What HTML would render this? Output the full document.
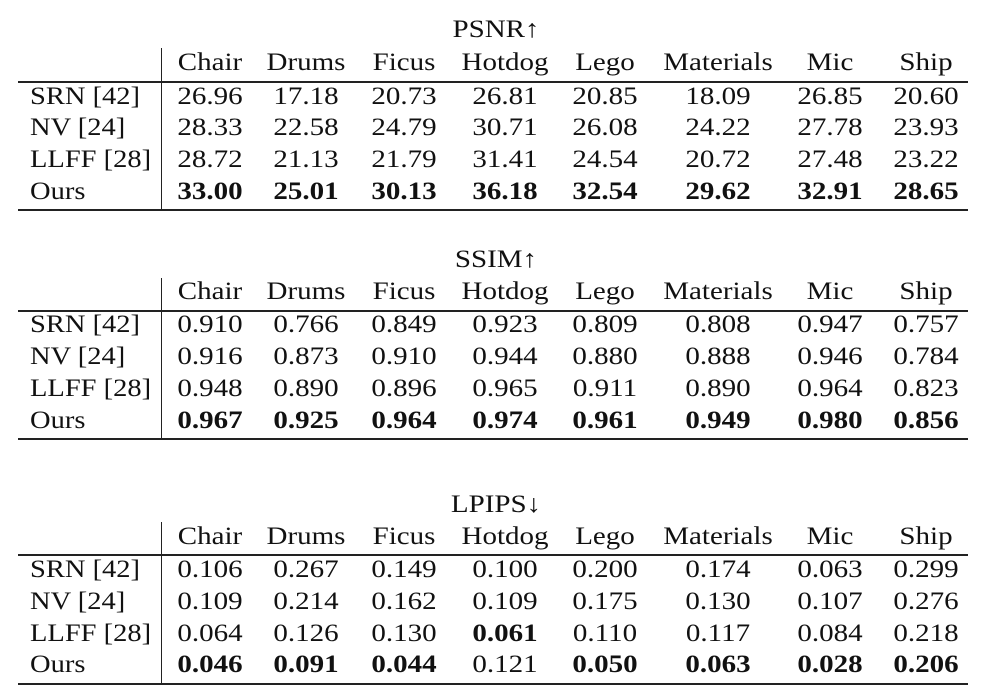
<!DOCTYPE html>
<html><head><meta charset="utf-8"><style>
body{margin:0;width:986px;height:698px;background:#fff;position:relative;overflow:hidden;font-family:"Liberation Serif",serif;color:#111;}
.t{position:absolute;font-size:25px;line-height:28px;white-space:nowrap;transform:translate(-50%,-50%) scaleX(1.16);}
.l{position:absolute;font-size:25px;line-height:28px;white-space:nowrap;transform:translateY(-50%) scaleX(1.14);transform-origin:0 50%;left:30px;}
.b{font-weight:bold;}
.h{position:absolute;left:18px;width:950px;height:1.5px;background:#222;}
.v{position:absolute;left:161px;width:1.3px;background:#222;}
</style></head><body>
<div id="root"></div>
<script>
var cols=[210,306,404,505,605,718,830,926];
var heads=["Chair","Drums","Ficus","Hotdog","Lego","Materials","Mic","Ship"];
var labels=["SRN [42]","NV [24]","LLFF [28]","Ours"];
var tables=[
 {title:"PSNR↑",ty:30,vt:48,hy:63,line:81,rows:[97,128,160,192],bot:209,
  d:[["26.96","17.18","20.73","26.81","20.85","18.09","26.85","20.60"],
     ["28.33","22.58","24.79","30.71","26.08","24.22","27.78","23.93"],
     ["28.72","21.13","21.79","31.41","24.54","20.72","27.48","23.22"],
     ["*33.00","*25.01","*30.13","*36.18","*32.54","*29.62","*32.91","*28.65"]]},
 {title:"SSIM↑",ty:260,vt:278,hy:292,line:310,rows:[325,357,389,421],bot:438,
  d:[["0.910","0.766","0.849","0.923","0.809","0.808","0.947","0.757"],
     ["0.916","0.873","0.910","0.944","0.880","0.888","0.946","0.784"],
     ["0.948","0.890","0.896","0.965","0.911","0.890","0.964","0.823"],
     ["*0.967","*0.925","*0.964","*0.974","*0.961","*0.949","*0.980","*0.856"]]},
 {title:"LPIPS↓",ty:505,vt:522,hy:537,line:554,rows:[570,602,634,665],bot:683,
  d:[["0.106","0.267","0.149","0.100","0.200","0.174","0.063","0.299"],
     ["0.109","0.214","0.162","0.109","0.175","0.130","0.107","0.276"],
     ["0.064","0.126","0.130","*0.061","0.110","0.117","0.084","0.218"],
     ["*0.046","*0.091","*0.044","0.121","*0.050","*0.063","*0.028","*0.206"]]}
];
var h="";
tables.forEach(function(t){
 h+='<div class="t" style="left:496px;top:'+t.ty+'px">'+t.title+'</div>';
 h+='<div class="v" style="top:'+t.vt+'px;height:'+(t.bot-t.vt)+'px"></div>';
 h+='<div class="h" style="top:'+t.line+'px"></div>';
 h+='<div class="h" style="top:'+t.bot+'px"></div>';
 heads.forEach(function(s,i){h+='<div class="t" style="left:'+cols[i]+'px;top:'+t.hy+'px">'+s+'</div>';});
 t.rows.forEach(function(y,r){
  h+='<div class="l" style="top:'+y+'px">'+labels[r]+'</div>';
  t.d[r].forEach(function(v,i){var b=v[0]=="*";h+='<div class="t'+(b?' b':'')+'" style="left:'+cols[i]+'px;top:'+y+'px">'+(b?v.slice(1):v)+'</div>';});
 });
});
document.getElementById("root").innerHTML=h;
</script>
</body></html>
